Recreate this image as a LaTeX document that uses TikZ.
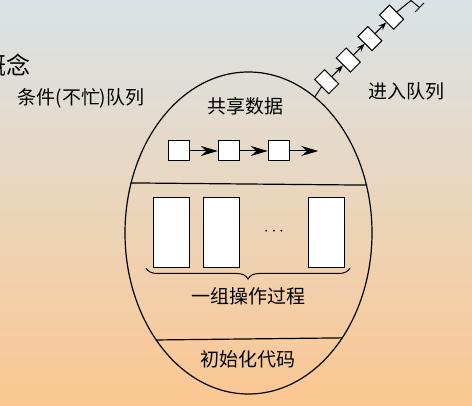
\documentclass[tikz,border=0pt]{standalone}
\usepackage{fontspec}
\newfontfamily\cjk{Noto Sans CJK SC}
\usepackage{tikz}
\usetikzlibrary{arrows.meta,positioning,shapes.geometric,decorations.pathreplacing}
\definecolor{bgtop}{HTML}{D9E3E7}
\definecolor{bgmid}{HTML}{EBD7C0}
\definecolor{bgbot}{HTML}{FCC791}

\begin{document}
\begin{tikzpicture}[
  x=1pt, y=-1pt,
  labeltext/.style={font=\cjk\fontsize{19}{22}\selectfont, inner sep=0pt},
  monitorshape/.style={draw, ellipse, line width=1.2pt, inner sep=0pt,
    minimum width=247pt, minimum height=322pt},
  datanode/.style={draw, fill=white, line width=1pt, inner sep=0pt,
    minimum width=21pt, minimum height=20pt},
  procnode/.style={draw, fill=white, line width=1pt, inner sep=0pt,
    minimum width=36pt, minimum height=70pt},
  queuenode/.style={draw, fill=white, line width=1pt, inner sep=0pt,
    rotate=45, minimum width=14pt, minimum height=20pt},
  dataedge/.style={-{Stealth[length=17pt, width=10pt]}, line width=1pt},
  queueedge/.style={-{Stealth[length=8pt, width=6pt]}, line width=1pt},
  partline/.style={line width=1.2pt}
]
% ---------------- background ----------------
\shade[top color=bgtop, middle color=bgmid, bottom color=bgbot] (0,0) rectangle (472,406);
\useasboundingbox (0,0) rectangle (472,406);
\node[labeltext, font=\cjk\fontsize{24}{28}\selectfont, anchor=east] (title) at (31,65) {概念};
% ---------------- monitor outline ----------------
\node[monitorshape] (monitor) at (248.5,233) {};
\draw[partline] (monitor.157.4) -- (monitor.22.6);
\draw[partline] (monitor.-131.25) -- (monitor.-48.75);
% ---------------- shared data ----------------
\node[labeltext] (shared) at (245,106.5) {共享数据};
\node[datanode] (s1) at (178.8,151) {};
\node[datanode, right=28pt of s1] (s2) {};
\node[datanode, right=28pt of s2] (s3) {};
\coordinate (send) at (318.3,151);
\draw[dataedge] (s1) -- (s2);
\draw[dataedge] (s2) -- (s3);
\draw[dataedge] (s3) -- (send);
% ---------------- procedures ----------------
\node[procnode] (p1) at (171.3,232.3) {};
\node[procnode, right=13.4pt of p1] (p2) {};
\node[procnode] (p3) at (326.2,232.3) {};
\node[font=\fontsize{17}{19}\selectfont, inner sep=0pt] (dots) at (274,231.5) {$\cdots$};
\coordinate (bl) at (146,268);
\coordinate (br) at (350,268);
\draw[decorate, decoration={brace, mirror, amplitude=11pt}, line width=1pt] (bl) -- (br);
\node[labeltext] (procs) at (248,296) {一组操作过程};
% ---------------- init code ----------------
\node[labeltext] (init) at (248,359) {初始化代码};
% ---------------- entry queue ----------------
\node[queuenode] (q1) at (326.7,81.7) {};
\node[queuenode] (q2) at (348.3,60.1) {};
\node[queuenode] (q3) at (369.9,38.6) {};
\node[queuenode] (q4) at (391.6,17.2) {};
\draw[line width=1pt] (monitor.64.5) -- (q1.west);
\draw[queueedge] (q1) -- (q2);
\draw[queueedge] (q2) -- (q3);
\draw[queueedge] (q3) -- (q4);
\coordinate (qtop) at (411,0.5);
\coordinate (qend) at (419.5,7.5);
\coordinate (tick1) at (415,12);
\coordinate (tick2) at (424,3);
\draw[line width=1pt] (q4.east) -- (qtop) -- (qend);
\draw[line width=1pt] (tick1) -- (tick2);
\node[labeltext] (entry) at (406.7,91) {进入队列};
% ---------------- condition queue ----------------
\node[labeltext] (cond) at (81,98) {条件(不忙)队列};
\end{tikzpicture}
\end{document}
